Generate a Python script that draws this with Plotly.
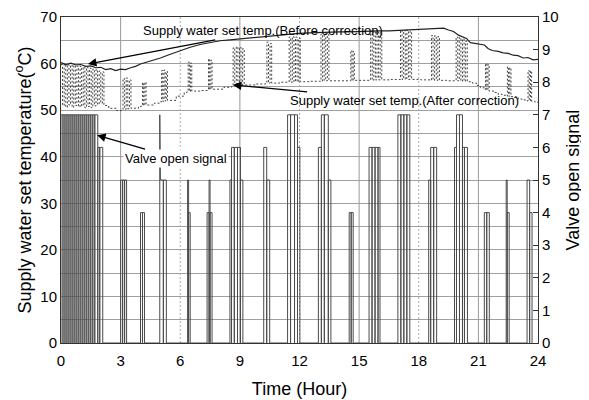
import plotly.graph_objects as go

# ---------------- data ----------------
hour_ticks = [0, 3, 6, 9, 12, 15, 18, 21, 24]
temp_ticks = [0, 10, 20, 30, 40, 50, 60, 70]
signal_ticks = [0, 1, 2, 3, 4, 5, 6, 7, 8, 9, 10]

# Supply water set temp. (before correction)
before_t = [0.0, 0.25, 0.5, 0.75, 1.0, 1.25, 1.5, 1.75, 2.0, 2.25, 2.5, 2.75, 3.0, 3.25,
            3.5, 3.75, 4.0, 4.5, 5.0, 5.5, 6.0, 6.5, 7.0, 7.5, 8.0, 8.5, 9.0, 9.5, 10.0,
            10.5, 11.0, 11.5, 12.0, 12.5, 13.0, 13.5, 14.0, 14.5, 15.0, 15.5, 16.0, 16.5,
            17.0, 17.5, 18.0, 18.5, 19.0, 19.25, 19.5, 19.75, 20.0, 20.25, 20.4, 20.6,
            21.0, 21.3, 21.5, 21.7, 22.0, 22.25, 22.5, 22.75, 23.0, 23.25, 23.5, 23.75, 24.0]
before_v = [60.2, 59.8, 60.1, 59.7, 59.8, 59.4, 59.5, 59.1, 59.2, 58.7, 58.9, 58.5, 58.8, 58.7,
            59.1, 59.4, 59.9, 60.5, 61.2, 62.0, 62.8, 63.5, 64.1, 64.5, 64.9, 65.1, 65.3, 65.6,
            65.8, 66.0, 66.2, 66.4, 66.5, 66.6, 66.7, 66.7, 66.8, 66.8, 66.9, 66.9, 67.0, 67.0,
            67.1, 67.1, 67.2, 67.3, 67.4, 67.6, 67.2, 66.9, 66.1, 65.6, 65.4, 64.5,
            64.3, 64.0, 63.2, 62.8, 62.6, 62.3, 62.2, 61.8, 61.7, 61.2, 61.3, 60.8, 60.9]

# Supply water set temp. (after correction), drawn as a step line
after_t = [0.00, 0.08, 0.16, 0.24, 0.32, 0.40, 0.48, 0.56, 0.64, 0.72, 0.80, 0.88, 0.96, 1.04,
           1.12, 1.20, 1.28, 1.36, 1.44, 1.52, 1.60, 1.68, 1.76, 1.84, 1.92, 2.00, 2.08, 2.16,
           2.40, 2.80,
           3.04, 3.12, 3.20, 3.28, 3.36, 3.44, 3.52, 3.90,
           4.04, 4.10, 4.16, 4.22, 4.28, 4.70,
           5.00, 5.06, 5.12, 5.18, 5.24, 5.30, 5.36, 5.80, 6.20,
           6.34, 6.40, 6.46, 6.52, 6.58, 7.00,
           7.36, 7.42, 7.48, 7.54, 7.60, 8.20,
           8.58, 8.66, 8.74, 8.82, 8.90, 8.98, 9.06, 9.14, 9.22, 9.80,
           10.28, 10.36, 10.44, 10.52, 10.60, 11.00,
           11.40, 11.48, 11.56, 11.64, 11.72, 11.80, 11.88, 11.96, 12.04, 12.50,
           13.00, 13.08, 13.16, 13.24, 13.32, 13.40, 13.48, 14.00,
           14.52, 14.58, 14.64, 14.70, 14.76, 15.20,
           15.50, 15.58, 15.66, 15.74, 15.82, 15.90, 15.98, 16.06, 16.14, 16.60,
           17.00, 17.08, 17.16, 17.24, 17.32, 17.40, 17.48, 17.56, 17.64, 18.10,
           18.56, 18.64, 18.72, 18.80, 18.88, 18.96, 19.04, 19.40,
           19.80, 19.88, 19.96, 20.04, 20.12, 20.20, 20.28, 20.36, 20.44, 20.70, 20.90, 21.10,
           21.30, 21.36, 21.42, 21.48, 21.54, 21.80, 22.00, 22.20,
           22.40, 22.46, 22.52, 22.58, 22.64, 22.80, 23.00, 23.20,
           23.44, 23.50, 23.56, 23.62, 23.68, 23.85, 24.00]
after_v = [59.8, 51.0, 59.9, 50.6, 59.8, 51.1, 59.7, 50.6, 59.6, 51.0, 59.4, 50.7, 59.4, 50.9,
           59.3, 50.5, 59.2, 50.8, 59.0, 50.5, 58.8, 50.9, 58.7, 51.2, 58.4, 51.5, 58.2, 51.0,
           50.4, 49.9,
           50.0, 56.8, 50.2, 56.9, 50.3, 56.5, 50.4, 50.8,
           50.9, 55.9, 51.0, 56.0, 51.1, 51.5,
           51.8, 58.5, 51.9, 58.6, 52.0, 58.3, 52.1, 53.0, 53.8,
           54.0, 60.3, 54.0, 60.1, 54.1, 54.2,
           54.4, 61.0, 54.4, 60.7, 54.5, 54.9,
           55.1, 63.4, 55.2, 63.6, 55.2, 63.5, 55.3, 63.2, 55.4, 55.6,
           55.7, 64.6, 55.8, 64.3, 55.8, 56.0,
           56.0, 65.7, 56.0, 65.8, 56.1, 65.7, 56.1, 65.5, 56.1, 56.2,
           56.2, 66.3, 56.2, 66.4, 56.3, 66.2, 56.3, 56.3,
           56.3, 62.8, 56.3, 62.6, 56.4, 56.4,
           56.4, 66.9, 56.4, 67.0, 56.5, 66.9, 56.5, 66.7, 56.5, 56.6,
           56.6, 67.1, 56.6, 67.1, 56.6, 67.2, 56.6, 66.9, 56.6, 56.5,
           56.4, 66.0, 56.4, 66.0, 56.4, 65.8, 56.4, 56.3,
           56.3, 65.7, 56.3, 65.6, 56.2, 65.3, 56.2, 64.8, 56.1, 55.8, 55.3, 54.8,
           54.4, 60.0, 54.3, 59.8, 54.1, 53.8, 53.4, 53.2,
           53.0, 59.3, 53.0, 59.1, 52.9, 52.7, 52.4, 52.2,
           52.0, 58.5, 52.0, 58.4, 51.9, 51.7, 51.6]

# Valve open signal pulses (on time, off time, level)
valve_on = [0.00, 0.10, 0.20, 0.30, 0.40, 0.50, 0.60, 0.70, 0.80, 0.90, 1.00, 1.10, 1.20,
            1.30, 1.40, 1.50, 1.60, 1.70, 1.85, 1.95,
            3.00, 3.10, 3.20,
            4.00, 4.10,
            4.97, 5.00, 5.15,
            6.37, 6.42,
            7.35, 7.45, 7.50,
            8.50, 8.58, 8.72, 8.88, 9.03,
            10.20, 10.35,
            11.40, 11.55, 11.75, 11.90,
            12.95, 13.10, 13.25, 13.45,
            14.50, 14.60,
            15.50, 15.65, 15.80, 15.95,
            16.95, 17.10, 17.25, 17.40,
            18.50, 18.60, 18.75,
            19.80, 19.90, 20.05, 20.20, 20.30,
            21.30, 21.42,
            22.40, 22.45,
            23.45, 23.58]
valve_off = [0.10, 0.20, 0.30, 0.40, 0.50, 0.60, 0.70, 0.80, 0.90, 1.00, 1.10, 1.20, 1.30,
             1.40, 1.50, 1.60, 1.70, 1.85, 1.95, 2.10,
             3.10, 3.20, 3.30,
             4.10, 4.20,
             5.00, 5.15, 5.30,
             6.42, 6.50,
             7.45, 7.50, 7.60,
             8.58, 8.72, 8.88, 9.03, 9.15,
             10.35, 10.50,
             11.55, 11.75, 11.90, 12.02,
             13.10, 13.25, 13.45, 13.58,
             14.60, 14.70,
             15.65, 15.80, 15.95, 16.05,
             17.10, 17.25, 17.40, 17.55,
             18.60, 18.75, 18.90,
             19.90, 20.05, 20.20, 20.30, 20.45,
             21.42, 21.55,
             22.45, 22.55,
             23.58, 23.70]
valve_lvl = [7, 7, 7, 7, 7, 7, 7, 7, 7, 7, 7, 7, 7,
             7, 7, 7, 7, 7, 6, 6,
             5, 5, 5,
             4, 4,
             7, 5, 5,
             5, 4,
             4, 5, 4,
             5, 6, 6, 6, 5,
             6, 5,
             7, 7, 7, 6,
             6, 7, 7, 5,
             4, 4,
             6, 6, 6, 6,
             7, 7, 7, 7,
             5, 6, 6,
             6, 7, 7, 6, 6,
             4, 4,
             5, 4,
             5, 4]

# ---------------- build valve path ----------------
vx, vy = [], []
for on, off, lv in zip(valve_on, valve_off, valve_lvl):
    vx += [on, on, off, off]
    vy += [0, lv, lv, 0]

FONT = "Liberation Sans, Arial, sans-serif"

fig = go.Figure()

# vertical grid lines (solid at 3,9,15,21; dotted at 6,12,18) as background traces
for h in hour_ticks[1:-1]:
    solid = (h // 3) % 2 == 1
    fig.add_trace(go.Scatter(x=[h, h], y=[0, 70], mode="lines", hoverinfo="skip",
                             line=dict(color="#999999" if solid else "#aaaaaa", width=1,
                                       dash="solid" if solid else "2px,2px")))

fig.add_trace(go.Scatter(x=vx, y=vy, mode="lines", yaxis="y2",
                         line=dict(color="#4a4a4a", width=1), hoverinfo="skip"))
fig.add_trace(go.Scatter(x=after_t, y=after_v, mode="lines", line_shape="hv",
                         line=dict(color="#444444", width=1, dash="2px,2px")))
fig.add_trace(go.Scatter(x=before_t, y=before_v, mode="lines",
                         line=dict(color="#222222", width=1.2)))

ann_font = dict(family=FONT, size=13, color="black")
fig.add_annotation(x=1.36, y=59.9, ax=10.15, ay=67.0, xref="x", yref="y",
                   axref="x", ayref="y", text="Supply water set temp.(Before correction)",
                   showarrow=True, arrowhead=2, arrowsize=1.3, arrowwidth=1.3,
                   arrowcolor="black", font=ann_font)
fig.add_annotation(x=8.65, y=55.4, ax=17.3, ay=52.0, xref="x", yref="y",
                   axref="x", ayref="y", text="Supply water set temp.(After correction)",
                   showarrow=True, arrowhead=2, arrowsize=1.3, arrowwidth=1.3,
                   arrowcolor="black", font=ann_font)
fig.add_annotation(x=1.82, y=44.6, ax=5.8, ay=39.7, xref="x", yref="y",
                   axref="x", ayref="y", text="Valve open signal",
                   showarrow=True, arrowhead=2, arrowsize=1.3, arrowwidth=1.3,
                   arrowcolor="black", font=ann_font, bgcolor="white")

# The page body adds an 8px offset, so the figure is sized to fit within 589x400
fig.update_layout(
    width=581, height=392,
    margin=dict(l=53, r=51, t=9, b=57),
    paper_bgcolor="white", plot_bgcolor="white",
    showlegend=False,
    font=dict(family=FONT, color="black"),
    xaxis=dict(range=[0, 24], tickvals=hour_ticks, ticktext=[str(h) for h in hour_ticks],
               showgrid=False, zeroline=False, showline=True, mirror=True,
               linecolor="#333333", linewidth=1, ticks="", automargin=False,
               tickfont=dict(size=15), ticklabelstandoff=4,
               title=dict(text="Time (Hour)", font=dict(size=18), standoff=14)),
    yaxis=dict(range=[0, 70], tickvals=temp_ticks, showgrid=True, gridcolor="#a0a0a0",
               gridwidth=1, zeroline=False, showline=True, linecolor="#333333",
               linewidth=1, ticks="", tickfont=dict(size=15), automargin=False,
               minor=dict(dtick=5, showgrid=True, gridcolor="#a0a0a0", gridwidth=1),
               title=dict(text="Supply water set temperature(<sup>o</sup>C)",
                          font=dict(size=18), standoff=4)),
    yaxis2=dict(range=[0, 10], tickvals=signal_ticks, overlaying="y", side="right",
                showgrid=False, zeroline=False, showline=True, linecolor="#333333",
                linewidth=1, ticks="inside", ticklen=5, tickcolor="#333333",
                tickfont=dict(size=15), automargin=False,
                title=dict(text="Valve open signal", font=dict(size=18), standoff=8)),
)

fig.write_html("out.html")
